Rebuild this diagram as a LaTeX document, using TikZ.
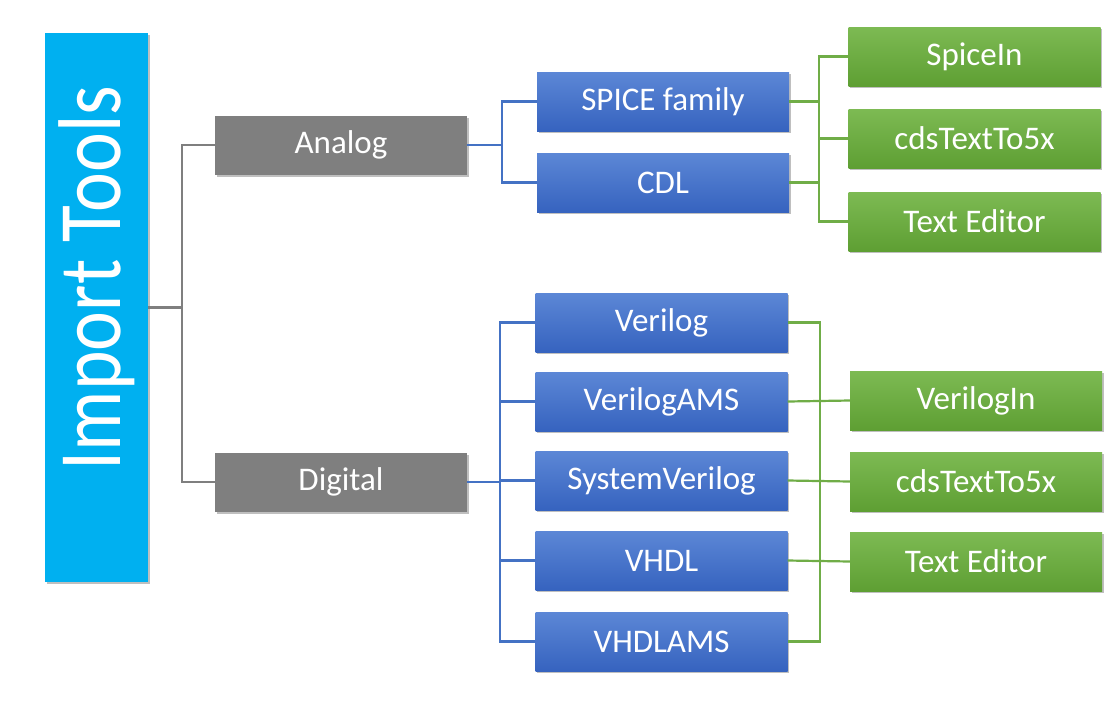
\documentclass[tikz,border=0pt]{standalone}
\usepackage{fontspec}
\setmainfont{Carlito}
\usetikzlibrary{shadows}
\definecolor{cyanbox}{HTML}{00B0F0}
\definecolor{graybox}{HTML}{7F7F7F}
\definecolor{bluetop}{HTML}{5C87D6}
\definecolor{bluebot}{HTML}{3663BF}
\definecolor{greentop}{HTML}{7DBA53}
\definecolor{greenbot}{HTML}{5E9F33}
\definecolor{blueline}{HTML}{4472C4}
\definecolor{greenline}{HTML}{70AD47}
\tikzset{
  boxbase/.style={rectangle, inner sep=0pt, minimum width=252pt, minimum height=59pt,
    text=white, font=\fontsize{33}{36}\selectfont,
    drop shadow={shadow xshift=1.5pt, shadow yshift=-2pt, opacity=0.25, fill=black}},
  graynode/.style={boxbase, fill=graybox},
  bluenode/.style={boxbase, top color=bluetop, bottom color=bluebot},
  greennode/.style={boxbase, top color=greentop, bottom color=greenbot},
  grayline/.style={draw=graybox, line width=2.2pt},
  bline/.style={draw=blueline, line width=2.2pt},
  gline/.style={draw=greenline, line width=2.2pt},
}
\begin{document}
\begin{tikzpicture}[x=1pt,y=-1pt]
\useasboundingbox[fill=white] (0,0) rectangle (1110,710);
% main box
\node[rectangle, inner sep=0pt, minimum width=103pt, minimum height=549pt, fill=cyanbox,
  drop shadow={shadow xshift=1.5pt, shadow yshift=-2pt, opacity=0.25, fill=black}]
  (import) at (96.5,307.5) {};
\node[rotate=90, anchor=base, text=white, inner sep=0pt, font=\fontsize{75.5}{80}\selectfont]
  (importtext) at (120,278) {\scalebox{1}[1.18]{Import Tools}};
% level 1
\node[graynode] (analog) at (341,145) {Analog};
\node[graynode] (digital) at (341,482) {Digital};
% level 2 analog
\node[bluenode] (spice) at (663,101.5) {SPICE family};
\node[bluenode] (cdl) at (663,182.5) {CDL};
% level 2 digital
\node[bluenode] (verilog) at (661.5,322.5) {Verilog};
\node[bluenode] (vams) at (661.5,401.5) {VerilogAMS};
\node[bluenode] (sv) at (661.5,480.5) {SystemVerilog};
\node[bluenode] (vhdl) at (661.5,560.5) {VHDL};
\node[bluenode] (vhdlams) at (661.5,641.5) {VHDLAMS};
% level 3 top
\node[greennode] (spicein) at (974.5,56.5) {SpiceIn};
\node[greennode] (cdsa) at (974.5,138.5) {cdsTextTo5x};
\node[greennode] (teda) at (974.5,221.5) {Text Editor};
% level 3 bottom
\node[greennode] (verilogin) at (976,400.5) {VerilogIn};
\node[greennode] (cdsb) at (976,481.5) {cdsTextTo5x};
\node[greennode] (tedb) at (976,561.5) {Text Editor};
% connectors gray
\coordinate (gj) at (182,307.5);
\draw[grayline] (import.east) -- (gj);
\draw[grayline] (analog.west) -| (gj) |- (digital.west);
% analog blue
\coordinate (aj) at (502,145);
\draw[bline] (analog.east) -- (aj);
\draw[bline] (spice.west) -| (aj) |- (cdl.west);
% digital blue
\coordinate (dj) at (500,482);
\draw[bline] (digital.east) -- (dj);
\draw[bline] (verilog.west) -| (dj) |- (vhdlams.west);
\draw[bline] (vams.west) -- (vams.west -| dj);
\draw[bline] (sv.west) -- (sv.west -| dj);
\draw[bline] (vhdl.west) -- (vhdl.west -| dj);
% top green
\coordinate (tj) at (819,138.5);
\draw[gline] (spice.east) -- (spice.east -| tj);
\draw[gline] (cdl.east) -- (cdl.east -| tj);
\draw[gline] (spicein.west) -| (tj) |- (teda.west);
\draw[gline] (tj) -- (cdsa.west);
% bottom green
\coordinate (bj) at (820,480.5);
\draw[gline] (verilog.east) -| (bj) |- (vhdlams.east);
\draw[gline] (vams.east) -- (verilogin.west);
\draw[gline] (sv.east) -- (cdsb.west);
\draw[gline] (vhdl.east) -- (tedb.west);
\end{tikzpicture}
\end{document}
